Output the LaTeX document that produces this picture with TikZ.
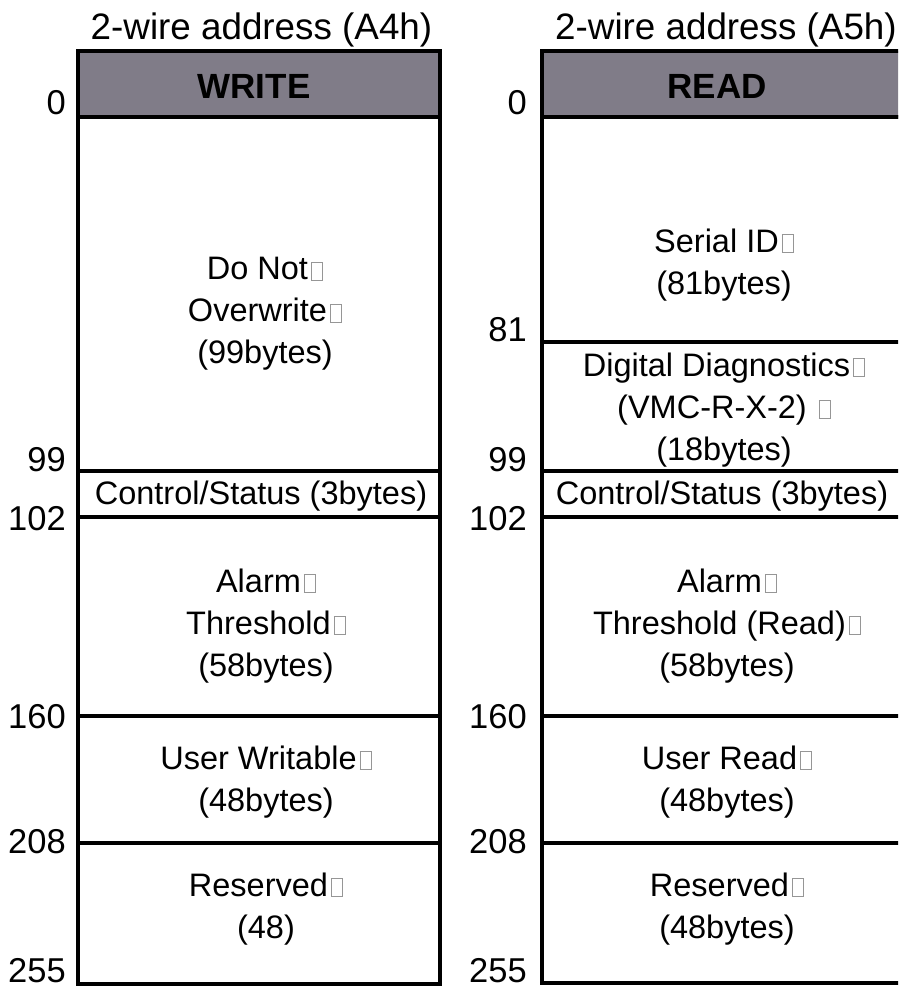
\documentclass[tikz,border=0pt]{standalone}
\usepackage{fontspec}
\setmainfont{Liberation Sans}
\definecolor{hdrgray}{RGB}{128,124,136}
\definecolor{boxgray}{RGB}{150,150,150}
\newcommand{\gapbox}{\hspace{3pt}{\color{boxgray}\fboxsep=0pt\fboxrule=1pt\fbox{\phantom{\rule{10pt}{17pt}}}}}
\begin{document}
\begin{tikzpicture}[x=1pt,y=-1pt,
  frame/.style={draw=black,line width=3.2pt},
  hdr/.style={draw=black,line width=3.2pt,fill=hdrgray},
  sep/.style={draw=black,line width=3.2pt},
  title/.style={font=\fontsize{36.8}{40}\selectfont,inner sep=0pt},
  hdrtext/.style={font=\fontsize{35}{40}\selectfont\bfseries,inner sep=0pt},
  celltext/.style={font=\fontsize{32.5}{42}\selectfont,align=center,inner sep=0pt},
  num/.style={font=\fontsize{34.5}{40}\selectfont,anchor=east,inner sep=0pt}]
\useasboundingbox (0,0) rectangle (898,988);
\clip (0,0) rectangle (898,988);
% left column
\draw[hdr] (78,51) rectangle (440,117);
\draw[frame] (78,117) rectangle (440,984);
\foreach \y in {471,517,716,843} \draw[sep] (78,\y) -- (440,\y);
% right column
\draw[hdr] (542,51) rectangle (910,117);
\draw[frame] (542,117) rectangle (910,983);
\foreach \y in {342,471,517,716,843} \draw[sep] (542,\y) -- (910,\y);
% titles
\node[title] (tl) at (261.5,30) {2-wire address (A4h)};
\node[title] (tr) at (726,30) {2-wire address (A5h)};
\node[hdrtext] (hw) at (254,86) {WRITE};
\node[hdrtext] (hr) at (717,86) {READ};
% left texts
\node[celltext] (l1) at (265,314) {Do Not\gapbox\\Overwrite\gapbox\\(99bytes)};
\node[celltext] (l2) at (261,496) {Control/Status (3bytes)};
\node[celltext] (l3) at (266,626) {Alarm\gapbox\\Threshold\gapbox\\(58bytes)};
\node[celltext] (l4) at (266,782) {User Writable\gapbox\\(48bytes)};
\node[celltext] (l5) at (266,909) {Reserved\gapbox\\(48)};
% right texts
\node[celltext] (r1) at (724,265) {Serial ID\gapbox\\(81bytes)};
\node[celltext] (r2) at (724,410) {Digital Diagnostics\gapbox\\(VMC-R-X-2) \gapbox\\(18bytes)};
\node[celltext] (r3) at (722,496) {Control/Status (3bytes)};
\node[celltext] (r4) at (727,626) {Alarm\gapbox\\Threshold (Read)\gapbox\\(58bytes)};
\node[celltext] (r5) at (727,782) {User Read\gapbox\\(48bytes)};
\node[celltext] (r6) at (727,909) {Reserved\gapbox\\(48bytes)};
% left numbers
\node[num] (nl0) at (66,103) {0};
\node[num] (nl99) at (66,460) {99};
\node[num] (nl102) at (66,519) {102};
\node[num] (nl160) at (66,717) {160};
\node[num] (nl208) at (66,842) {208};
\node[num] (nl255) at (66,971) {255};
% right numbers
\node[num] (nr0) at (527,103) {0};
\node[num] (nr81) at (527,330) {81};
\node[num] (nr99) at (527,460) {99};
\node[num] (nr102) at (527,519) {102};
\node[num] (nr160) at (527,717) {160};
\node[num] (nr208) at (527,842) {208};
\node[num] (nr255) at (527,971) {255};
\end{tikzpicture}
\end{document}
